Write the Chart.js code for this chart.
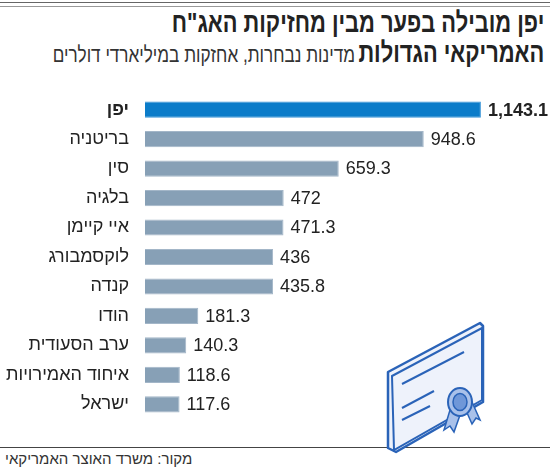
<!DOCTYPE html>
<html><head><meta charset="utf-8">
<script src="https://cdn.jsdelivr.net/npm/chart.js@4"></script>
<style>
body{margin:0;width:550px;height:468px;background:#fff;position:relative;overflow:hidden;font-family:'Liberation Sans',sans-serif;}
#top{position:absolute;left:0;right:0;top:2px;height:3px;border-top:1px solid #666;border-bottom:1px solid #999;}
#title{position:absolute;right:6px;top:10px;direction:rtl;text-align:right;color:#222;line-height:26px;white-space:nowrap;transform:scaleX(0.78);transform-origin:right top;}
#title .b{font-weight:bold;font-size:28px;}
#title .s{font-size:22px;color:#333;}
#wrap{position:absolute;left:0;top:76px;width:550px;height:362px;}
#line{position:absolute;left:0;right:0;top:447px;border-top:1.5px solid #444;}
#src{position:absolute;left:5px;top:450px;font-size:15px;color:#333;direction:rtl;}
svg{position:absolute;left:380px;top:320px;}
</style></head><body>
<div id="top"></div>
<div id="title"><span class="b">יפן מובילה בפער מבין מחזיקות האג"ח</span><br><span class="b">האמריקאי הגדולות</span> <span class="s">מדינות נבחרות, אחזקות במיליארדי דולרים</span></div>
<div id="wrap"><canvas id="c"></canvas></div>
<div id="line"></div>
<div id="src">מקור: משרד האוצר האמריקאי</div>
<svg width="170" height="150" viewBox="0 0 170 150">
<polygon points="8,52 100,3 103,6 103,82 16,132 8,128" fill="#eef2fb" stroke="#2a63b8" stroke-width="2.5" stroke-linejoin="round"/>
<polygon points="12,56 102,8 102,80 14,130" fill="#eef2fb" stroke="#2a63b8" stroke-width="2"/>
<line x1="22" y1="64" x2="84" y2="32" stroke="#2a63b8" stroke-width="2"/>
<line x1="22" y1="88" x2="54" y2="71" stroke="#2a63b8" stroke-width="2"/>
<line x1="22" y1="100" x2="50" y2="86" stroke="#2a63b8" stroke-width="2"/>
<polygon points="70,90 64,110 70,106 74,112 80,95" fill="#a9c1ea" stroke="#2a63b8" stroke-width="1.5"/>
<polygon points="84,86 92,104 96,98 100,100 92,82" fill="#a9c1ea" stroke="#2a63b8" stroke-width="1.5"/>
<ellipse cx="80" cy="82" rx="12" ry="14" fill="#a9c1ea" stroke="#2a63b8" stroke-width="2"/>
<ellipse cx="80" cy="82" rx="7" ry="8.5" fill="#6f97d8" stroke="#2a63b8" stroke-width="1.5"/>
</svg>
<script>
const categories=['יפן','בריטניה','סין','בלגיה','איי קיימן','לוקסמבורג','קנדה','הודו','ערב הסעודית','איחוד האמירויות','ישראל'];
const values=[1143.1,948.6,659.3,472,471.3,436,435.8,181.3,140.3,118.6,117.6];
const valueLabels=['1,143.1','948.6','659.3','472','471.3','436','435.8','181.3','140.3','118.6','117.6'];
const colors=values.map((v,i)=>i===0?'#0b7cc9':'#87a0b6');
const F="'Liberation Sans',sans-serif";
const valPlugin={id:'vals',afterDatasetsDraw(ch){const ctx=ch.ctx;const m=ch.getDatasetMeta(0);ctx.save();ctx.textBaseline='middle';ctx.textAlign='left';ctx.fillStyle='#222';
m.data.forEach((b,i)=>{ctx.font=(i===0?'bold ':'')+'18px '+F;ctx.fillText(valueLabels[i],b.x+7,b.y+1);});ctx.restore();}};
new Chart(document.getElementById('c'),{type:'bar',data:{labels:categories,datasets:[{data:values,backgroundColor:colors,borderColor:colors.map((c,i)=>i===0?'#3a95d8':'#a3b6c8'),borderWidth:1,barPercentage:0.55,categoryPercentage:1}]},
options:{indexAxis:'y',responsive:true,maintainAspectRatio:false,animation:false,layout:{padding:{left:0,right:23,top:0,bottom:0}},
plugins:{legend:{display:false},tooltip:{enabled:false}},
scales:{x:{display:false,min:0,max:1300},
y:{afterFit(s){s.width=145;},grid:{display:false},border:{display:false},ticks:{color:'#222',padding:8,font:(c)=>({family:F,size:18,weight:c.index===0?'bold':'normal'})}}}},
plugins:[valPlugin]});
</script>
</body></html>
